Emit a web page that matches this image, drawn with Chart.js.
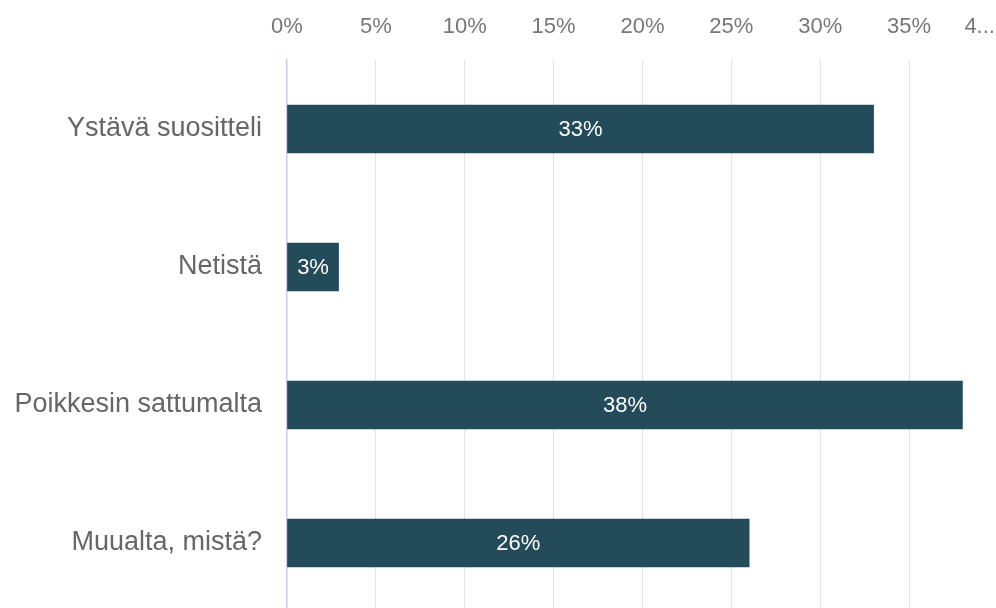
<!DOCTYPE html>
<html>
<head>
<meta charset="utf-8">
<script src="https://cdn.jsdelivr.net/npm/chart.js@4.4.1/dist/chart.umd.min.js"></script>
<style>
  html, body { margin: 0; padding: 0; background: #fff; overflow: hidden; }
  #wrap { width: 998px; height: 612px; }
</style>
</head>
<body>
<div id="wrap"><canvas id="myChart" width="998" height="612"></canvas></div>
<script>
var categories = ["Ystävä suositteli", "Netistä", "Poikkesin sattumalta", "Muualta, mistä?"];
var values = [33, 2.9, 38, 26];
var valueLabels = ["33%", "3%", "38%", "26%"];
var tickValues = [0, 5, 10, 15, 20, 25, 30, 35, 40];

// draws the white % text in the middle of each bar
var barText = {
  id: 'barText',
  afterDatasetsDraw: function(chart) {
    var ctx = chart.ctx;
    var meta = chart.getDatasetMeta(0);
    ctx.save();
    ctx.fillStyle = '#ffffff';
    ctx.font = '22px "Liberation Sans", Arial, sans-serif';
    ctx.textAlign = 'center';
    ctx.textBaseline = 'middle';
    meta.data.forEach(function(bar, i) {
      var p = bar.getProps(['x', 'y', 'base'], true);
      ctx.fillText(valueLabels[i], (p.x + p.base) / 2, p.y + 1);
    });
    ctx.restore();
  }
};

var graphTarget = document.getElementById('myChart');
var barGraph = new Chart(graphTarget, {
  type: 'bar',
  data: {
    labels: categories,
    datasets: [{
      data: values,
      backgroundColor: '#234b5a',
      barThickness: 48
    }]
  },
  options: {
    indexAxis: 'y',
    responsive: false,
    animation: false,
    layout: { padding: 0 },
    plugins: {
      legend: { display: false },
      tooltip: { enabled: false }
    },
    scales: {
      x: {
        position: 'top',
        min: 0,
        max: 40,
        afterBuildTicks: function(s) {
          s.ticks = tickValues.map(function(v) { return { value: v }; });
        },
        afterFit: function(s) {
          s.height = 60;
          s.paddingLeft = 0;
          s.paddingRight = 0;
        },
        grid: {
          color: function(c) { return c.index === 0 ? 'rgba(0,0,0,0)' : '#e3e3e3'; },
          drawTicks: false
        },
        border: { display: false },
        ticks: {
          padding: 20,
          color: '#777777',
          font: { family: '"Liberation Sans", Arial, sans-serif', size: 22 },
          maxRotation: 0,
          autoSkip: false,
          callback: function(v) {
            if (v === 40) return '4...      ';
            return v + '%';
          }
        }
      },
      y: {
        afterFit: function(s) {
          s.width = 287;
          s.paddingTop = 0;
          s.paddingBottom = 0;
        },
        grid: { display: false, drawTicks: false },
        border: { display: true, color: '#c3d0ea', width: 1.5 },
        ticks: {
          padding: 25,
          color: '#666666',
          font: { family: '"Liberation Sans", Arial, sans-serif', size: 27 }
        }
      }
    }
  },
  plugins: [barText]
});
</script>
</body>
</html>
